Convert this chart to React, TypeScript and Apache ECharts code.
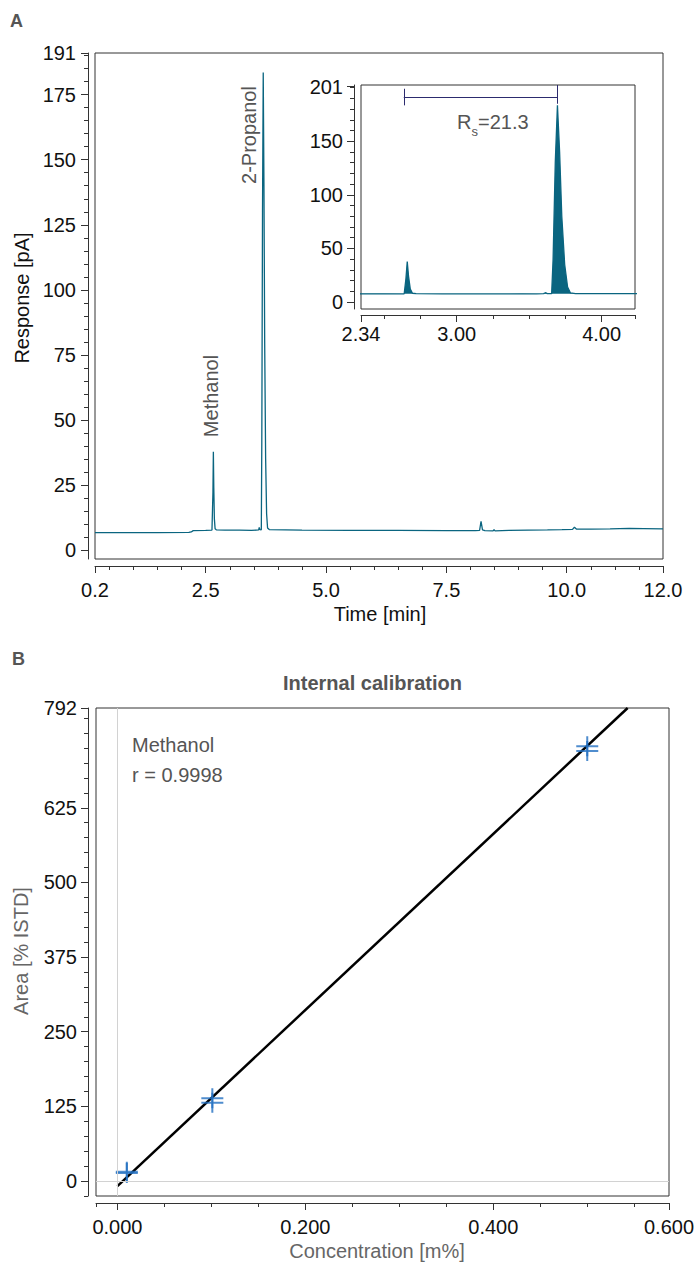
import React, { useEffect, useRef } from "react";
import * as echarts from "echarts";

// ---------- data ----------
// Chromatogram (time [min], response [pA])
const chromatogram: [number, number][] = [
  [0.2, 6.7], [0.8, 6.7], [1.5, 6.75], [2.15, 6.8], [2.2, 7.0], [2.24, 7.5],
  [2.5, 7.6], [2.63, 7.7], [2.638, 7.7], [2.65, 22], [2.659, 37.8], [2.668, 24], [2.68, 12], [2.695, 8.2], [2.72, 7.8],
  [2.9, 7.7], [3.2, 7.7], [3.45, 7.6], [3.55, 7.7], [3.6, 7.8], [3.612, 8.7], [3.625, 7.9],
  [3.655, 7.8], [3.665, 40], [3.68, 130], [3.695, 183.5], [3.71, 140], [3.725, 80], [3.745, 35], [3.765, 14], [3.785, 8.5], [3.82, 7.9],
  [4.5, 7.7], [5.5, 7.6], [6.5, 7.6], [7.5, 7.5], [8.1, 7.5], [8.19, 7.6], [8.22, 11.1], [8.25, 7.8], [8.3, 7.5],
  [8.47, 7.4], [8.49, 7.9], [8.51, 7.4], [8.8, 7.6], [9.2, 7.7], [9.6, 7.8], [9.9, 7.9],
  [10.12, 8.0], [10.16, 8.8], [10.2, 8.1], [10.5, 8.1], [10.9, 8.2], [11.3, 8.4], [11.6, 8.3], [12.0, 8.2],
];

// Main panel axes
const mainXMin = 0.2;
const mainXMax = 12.0;
const mainYMin = -3.4;
const mainYMax = 191;
const mainXLabels = [0.2, 2.5, 5.0, 7.5, 10.0, 12.0];
const mainYLabels = [0, 25, 50, 75, 100, 125, 150, 175, 191];

// Inset axes
const insetXMin = 2.34;
const insetXMax = 4.23;
const insetYMin = -6.5;
const insetYMax = 202.5;
const insetXLabels = [2.34, 3.0, 4.0];
const insetYLabels = [0, 50, 100, 150, 201];

// Resolution bracket (inset)
const rsLeftTime = 2.635;
const rsRightTime = 3.695;
const rsLevel = 191.3;
const rsLabel = "=21.3";

// Peak annotations
const peakNames = ["Methanol", "2-Propanol"];

// Calibration
const calibConc = [0.01, 0.01, 0.101, 0.101, 0.5, 0.5];
const calibArea = [15.5, 13.5, 138.5, 131, 728, 720];
const fitLine: [number, number][] = [
  [0, -8.4],
  [0.543, 792],
];
const calibXMin = -0.0228;
const calibXMax = 0.587;
const calibYMin = -25;
const calibYMax = 792;
const calibXLabels = [0, 0.2, 0.4, calibXMax];
const calibXMaxText = "0.600";
const calibYLabels = [0, 125, 250, 375, 500, 625, 792];
const calibCompound = "Methanol";
const calibR = "r = 0.9998";

// ---------- styling helpers ----------
const FONT = '"Liberation Sans", Arial, Helvetica, sans-serif';
const TRACE = "#0a6580";
const AXIS = "#333333";
const LABEL = "#111111";
const GREY_TEXT = "#555555";

function range(a: number, b: number, step: number): number[] {
  const out: number[] = [];
  const n = Math.round((b - a) / step);
  for (let i = 0; i <= n; i++) out.push(Math.round((a + i * step) * 10000) / 10000);
  return out;
}

const mainXMinor = [mainXMin, ...range(0.5, 12, 0.5)];
const mainYMinor = range(0, 190, 5);
const insetXMinor = [insetXMin, ...range(2.5, 4.0, 0.25), insetXMax];
const insetYMinor = range(0, 200, 10);
const calibXMinor = [calibXMin, ...range(0, 0.55, 0.05), calibXMax];
const calibYMinor = range(-25, 775, 25);

function majorAxis(
  grid: number,
  min: number,
  max: number,
  labels: number[],
  offset: number,
  margin: number,
  fmt: (v: number) => string
) {
  return {
    type: "value",
    gridIndex: grid,
    min,
    max,
    offset,
    axisLine: { show: true, onZero: false, lineStyle: { color: AXIS, width: 1 } },
    axisTick: { show: true, length: 7, customValues: labels, lineStyle: { color: AXIS, width: 1 } },
    axisLabel: {
      show: true,
      customValues: labels,
      formatter: fmt,
      margin,
      color: LABEL,
      fontSize: 20,
      fontFamily: FONT,
    },
    splitLine: { show: false },
  };
}

function minorAxis(grid: number, min: number, max: number, ticks: number[], offset: number) {
  return {
    type: "value",
    gridIndex: grid,
    min,
    max,
    offset,
    axisLine: { show: false, onZero: false },
    axisTick: { show: true, length: 4, customValues: ticks, lineStyle: { color: AXIS, width: 1 } },
    axisLabel: { show: false },
    splitLine: { show: false },
  };
}

function txt(
  text: string,
  x: number,
  y: number,
  opts: { size?: number; weight?: string; fill?: string; align?: string; rotation?: number } = {}
) {
  return {
    type: "text",
    x,
    y,
    rotation: opts.rotation || 0,
    z: 20,
    silent: true,
    style: {
      text,
      fontSize: opts.size || 20,
      fontWeight: opts.weight || "normal",
      fontFamily: FONT,
      fill: opts.fill || LABEL,
      align: opts.align || "center",
      verticalAlign: "middle",
    },
  };
}

export default function App() {
  const ref = useRef<HTMLDivElement>(null);

  useEffect(() => {
    document.body.style.margin = "0";
    if (!ref.current) return;
    const chart = echarts.init(ref.current, null, { renderer: "svg" });

    const option: any = {
      animation: false,
      backgroundColor: "#ffffff",
      grid: [
        { left: 95, top: 53, width: 568, height: 506, show: true, borderColor: AXIS, borderWidth: 1, backgroundColor: "transparent" },
        { left: 361, top: 85, width: 274, height: 224, show: true, borderColor: AXIS, borderWidth: 1, backgroundColor: "#ffffff" },
        { left: 96, top: 708, width: 573, height: 488, show: true, borderColor: AXIS, borderWidth: 1, backgroundColor: "transparent" },
      ],
      xAxis: [
        { ...majorAxis(0, mainXMin, mainXMax, mainXLabels, 7, 14, (v: number) => v.toFixed(1)), position: "bottom" },
        { ...minorAxis(0, mainXMin, mainXMax, mainXMinor, 7), position: "bottom" },
        { ...majorAxis(1, insetXMin, insetXMax, insetXLabels, 6, 9, (v: number) => v.toFixed(2)), position: "bottom" },
        { ...minorAxis(1, insetXMin, insetXMax, insetXMinor, 6), position: "bottom" },
        {
          ...majorAxis(2, calibXMin, calibXMax, calibXLabels, 7, 14, (v: number) =>
            Math.abs(v - calibXMax) < 1e-6 ? calibXMaxText : v.toFixed(3)
          ),
          position: "bottom",
        },
        { ...minorAxis(2, calibXMin, calibXMax, calibXMinor, 7), position: "bottom" },
      ],
      yAxis: [
        { ...majorAxis(0, mainYMin, mainYMax, mainYLabels, 7, 12, (v: number) => String(v)), position: "left" },
        { ...minorAxis(0, mainYMin, mainYMax, mainYMinor, 7), position: "left" },
        { ...majorAxis(1, insetYMin, insetYMax, insetYLabels, 7, 11, (v: number) => String(v)), position: "left" },
        { ...minorAxis(1, insetYMin, insetYMax, insetYMinor, 7), position: "left" },
        { ...majorAxis(2, calibYMin, calibYMax, calibYLabels, 8, 11, (v: number) => String(v)), position: "left" },
        { ...minorAxis(2, calibYMin, calibYMax, calibYMinor, 8), position: "left" },
      ],
      series: [
        {
          type: "line",
          name: "chromatogram",
          xAxisIndex: 0,
          yAxisIndex: 0,
          data: chromatogram,
          showSymbol: false,
          symbol: "none",
          lineStyle: { color: TRACE, width: 1.3 },
          z: 3,
          clip: true,
        },
        {
          type: "line",
          name: "inset",
          xAxisIndex: 2,
          yAxisIndex: 2,
          data: chromatogram,
          showSymbol: false,
          symbol: "none",
          lineStyle: { color: TRACE, width: 1.3 },
          areaStyle: { color: TRACE, opacity: 1, origin: 7.7 },
          z: 3,
          clip: true,
          markLine: {
            silent: true,
            symbol: ["none", "none"],
            label: { show: false },
            lineStyle: { color: "#2c2b6e", width: 1, type: "solid" },
            emphasis: { disabled: true },
            data: [
              [{ coord: [rsLeftTime, rsLevel] }, { coord: [rsRightTime, rsLevel] }],
              [{ coord: [rsLeftTime, 183.5] }, { coord: [rsLeftTime, 199] }],
              [{ coord: [rsRightTime, 185] }, { coord: [rsRightTime, insetYMax] }],
            ],
          },
        },
        {
          type: "line",
          name: "zero lines",
          xAxisIndex: 4,
          yAxisIndex: 4,
          data: [],
          z: 1,
          markLine: {
            silent: true,
            symbol: ["none", "none"],
            label: { show: false },
            lineStyle: { color: "#d2d2d2", width: 1, type: "solid" },
            data: [{ xAxis: 0 }, { yAxis: 0 }],
          },
        },
        {
          type: "line",
          name: "fit",
          xAxisIndex: 4,
          yAxisIndex: 4,
          data: fitLine,
          showSymbol: false,
          symbol: "none",
          lineStyle: { color: "#000000", width: 2.5 },
          z: 2,
          clip: true,
        },
        {
          type: "scatter",
          name: "standards",
          xAxisIndex: 4,
          yAxisIndex: 4,
          data: calibConc.map((c, i) => [c, calibArea[i]]),
          symbol: "path://M10,0H12V9H22V11H12V20H10V11H0V9H10Z",
          symbolSize: [22, 20],
          itemStyle: { color: "#2370c2" },
          z: 4,
        },
      ],
      graphic: [
        txt("A", 10, 21, { size: 18, weight: "bold", fill: GREY_TEXT, align: "left" }),
        txt("B", 12, 659, { size: 18, weight: "bold", fill: GREY_TEXT, align: "left" }),
        txt("Response [pA]", 22, 298, { rotation: Math.PI / 2 }),
        txt("Time [min]", 380, 614),
        txt(peakNames[0], 210.5, 396, { rotation: Math.PI / 2, fill: GREY_TEXT }),
        txt(peakNames[1], 248.5, 135, { rotation: Math.PI / 2, fill: GREY_TEXT }),
        txt("R", 457, 122, { fill: GREY_TEXT, align: "left" }),
        txt("s", 471.5, 131, { size: 13, fill: GREY_TEXT, align: "left" }),
        txt(rsLabel, 478, 122, { fill: GREY_TEXT, align: "left" }),
        txt("Internal calibration", 372.5, 683, { weight: "bold", fill: GREY_TEXT }),
        txt(calibCompound, 132, 745, { fill: GREY_TEXT, align: "left" }),
        txt(calibR, 132, 775, { fill: GREY_TEXT, align: "left" }),
        txt("Area [% ISTD]", 21, 951, { rotation: Math.PI / 2, fill: "#666666" }),
        txt("Concentration [m%]", 377, 1251, { fill: "#666666" }),
      ],
    };

    chart.setOption(option);
    return () => chart.dispose();
  }, []);

  return (
    <div
      ref={ref}
      style={{ position: "absolute", left: 0, top: 0, width: 698, height: 1263, background: "#ffffff" }}
    />
  );
}
